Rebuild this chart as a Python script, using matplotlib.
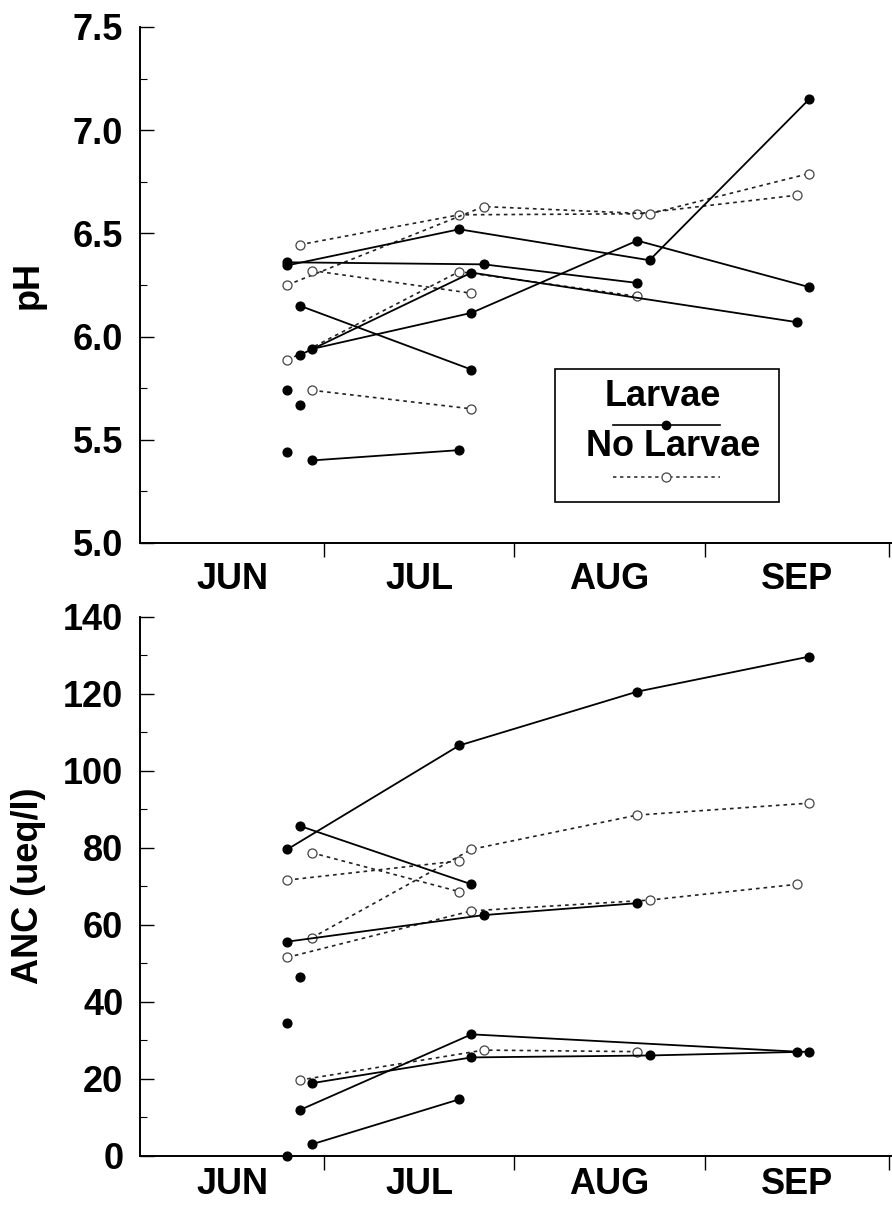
import matplotlib
matplotlib.use('Agg')
import matplotlib.pyplot as plt
from matplotlib.ticker import MultipleLocator, FixedLocator, FormatStrFormatter
from matplotlib.lines import Line2D
from matplotlib.patches import Rectangle

plt.rcParams['font.family'] = ['Liberation Sans', 'DejaVu Sans']
plt.rcParams['font.weight'] = 'bold'

# month boundaries (day of year) and labels
month_starts = [152, 182, 213, 244, 274]
month_mids = [167, 197.5, 228.5, 259]
month_names = ['JUN', 'JUL', 'AUG', 'SEP']

# pH, sites with larvae (solid, filled)
ph_larvae_days = [[176, 204, 235, 261], [176, 208, 233], [180, 206, 233, 261],
                  [178, 206, 259], [178, 206], [180, 204], [176], [178], [176]]
ph_larvae_vals = [[6.345, 6.52, 6.37, 7.15], [6.36, 6.35, 6.26], [5.94, 6.115, 6.465, 6.24],
                  [5.91, 6.31, 6.07], [6.15, 5.84], [5.40, 5.45], [5.74], [5.67], [5.44]]

# pH, sites without larvae (dotted, open)
ph_nolarvae_days = [[178, 204, 233, 259], [176, 208, 235, 261], [176, 204, 233],
                    [180, 206], [180, 206]]
ph_nolarvae_vals = [[6.445, 6.59, 6.595, 6.685], [6.25, 6.63, 6.595, 6.79], [5.885, 6.315, 6.195],
                    [6.32, 6.21], [5.74, 5.65]]

# ANC (ueq/l), sites with larvae
anc_larvae_days = [[176, 204, 233, 261], [178, 206], [176, 208, 233], [180, 206, 235, 261],
                   [178, 206, 259], [180, 204], [178], [176], [176]]
anc_larvae_vals = [[79.6, 106.6, 120.6, 129.7], [85.7, 70.5], [55.6, 62.5, 65.6], [18.8, 25.5, 26, 27],
                   [11.8, 31.5, 27], [2.9, 14.6], [46.5], [34.4], [0]]

# ANC (ueq/l), sites without larvae
anc_nolarvae_days = [[176, 204], [180, 206, 233, 261], [180, 204], [176, 206, 235, 259], [178, 208, 233]]
anc_nolarvae_vals = [[71.6, 76.6], [56.6, 79.6, 88.5, 91.6], [78.7, 68.6], [51.5, 63.6, 66.4, 70.5],
                     [19.6, 27.4, 27]]

FS = 26
W, H = 892, 1205

fig = plt.figure(figsize=(W / 100, H / 100), dpi=100)
ax1 = fig.add_axes([140 / W, 1 - 543 / H, 752 / W, 516 / H])
ax2 = fig.add_axes([140 / W, 1 - 1155.5 / H, 752 / W, 538.5 / H])

solid = dict(color='black', lw=1.3, marker='o', ms=6.3, mfc='black', mec='black', clip_on=False)
dotted = dict(color='#222222', lw=1.2, linestyle=(0, (2.2, 2.4)), marker='o', ms=6.5,
              mfc='white', mec='#444444', mew=0.9, clip_on=False)


def draw(ax, ldays, lvals, ndays, nvals):
    for d, v in zip(ndays, nvals):
        ax.plot(d, v, **dotted)
    for d, v in zip(ldays, lvals):
        ax.plot(d, v, **solid)


def style(ax, month_pad):
    ax.spines['top'].set_visible(False)
    ax.spines['right'].set_visible(False)
    ax.spines['left'].set_linewidth(1.4)
    ax.spines['bottom'].set_linewidth(1.4)
    ax.set_xlim(152, 274.5)
    ax.xaxis.set_major_locator(FixedLocator(month_starts[1:]))
    ax.xaxis.set_minor_locator(FixedLocator(month_mids))
    ax.set_xticklabels([], minor=False)
    ax.set_xticklabels(month_names, minor=True, fontsize=FS, fontweight='bold')
    ax.tick_params(axis='x', which='major', direction='out', length=10, width=1)
    ax.tick_params(axis='x', which='minor', length=0, pad=month_pad)
    ax.tick_params(axis='y', which='major', direction='in', length=10, width=1,
                   labelsize=FS, pad=12)
    ax.tick_params(axis='y', which='minor', direction='in', length=5, width=0.8)
    for lab in ax.get_yticklabels():
        lab.set_fontweight('bold')


draw(ax1, ph_larvae_days, ph_larvae_vals, ph_nolarvae_days, ph_nolarvae_vals)
ax1.set_ylim(5.0, 7.5)
ax1.yaxis.set_major_locator(MultipleLocator(0.5))
ax1.yaxis.set_minor_locator(MultipleLocator(0.25))
ax1.yaxis.set_major_formatter(FormatStrFormatter('%.1f'))
style(ax1, 14)
ax1.set_ylabel('pH', fontsize=FS, fontweight='bold')
ax1.yaxis.set_label_coords(-0.125, 0.5)

draw(ax2, anc_larvae_days, anc_larvae_vals, anc_nolarvae_days, anc_nolarvae_vals)
ax2.set_ylim(0, 140)
ax2.yaxis.set_major_locator(MultipleLocator(20))
ax2.yaxis.set_minor_locator(MultipleLocator(10))
style(ax2, 8)
ax2.set_ylabel('ANC (ueq/l)', fontsize=FS, fontweight='bold')
ax2.yaxis.set_label_coords(-0.125, 0.5)

# legend box drawn by hand (label above its line sample)
def fx(px):
    return px / W


def fy(py):
    return 1 - py / H


fig.add_artist(Rectangle((fx(555), fy(502)), 224 / W, 133 / H, transform=fig.transFigure,
                         fill=False, edgecolor='black', lw=1.2))
fig.text(fx(663), fy(397), 'Larvae', ha='center', va='center', fontsize=FS, fontweight='bold')
fig.text(fx(673), fy(446), 'No Larvae', ha='center', va='center', fontsize=FS, fontweight='bold')
fig.add_artist(Line2D([fx(613), fx(720)], [fy(425), fy(425)], transform=fig.transFigure,
                      color='black', lw=1.2))
fig.add_artist(Line2D([fx(666)], [fy(425)], transform=fig.transFigure, marker='o', ms=6,
                      mfc='black', mec='black'))
fig.add_artist(Line2D([fx(613), fx(720)], [fy(477), fy(477)], transform=fig.transFigure,
                      color='#222222', lw=1.1, linestyle=(0, (2.2, 2.4))))
fig.add_artist(Line2D([fx(666)], [fy(477)], transform=fig.transFigure, marker='o', ms=6.5,
                      mfc='white', mec='#444444', mew=0.9))

fig.savefig('out.png', dpi=100)
